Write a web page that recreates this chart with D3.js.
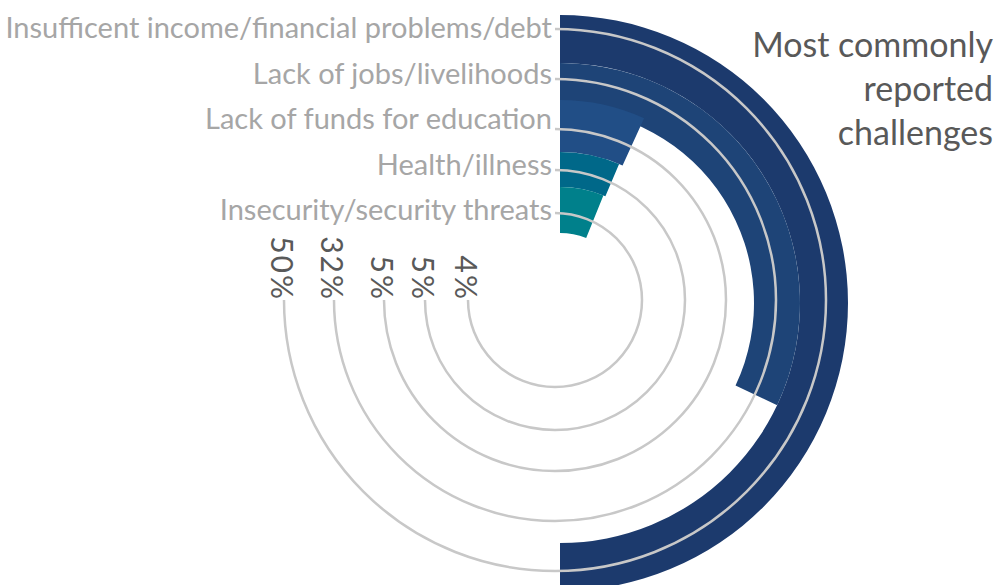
<!DOCTYPE html>
<html>
<head>
<meta charset="utf-8">
<script src="https://cdn.jsdelivr.net/npm/d3@7"></script>
<style>
  html, body { margin: 0; padding: 0; background: #fff; }
  svg { display: block; font-family: Lato, "Open Sans", sans-serif; }
</style>
</head>
<body>
<svg id="chart" width="999" height="585"></svg>
<script>
// challenges, outermost ring first
var categories = [
    "Insufficent income/financial problems/debt",
    "Lack of jobs/livelihoods",
    "Lack of funds for education",
    "Health/illness",
    "Insecurity/security threats"
];
// bar lengths as drawn (share of a full circle, %)
var values = [50, 32, 6.8, 6.4, 6.1];
// the labels printed on the chart
var valueLabels = ["50%", "32%", "5%", "5%", "4%"];
var barColors = ["#1c3a6d", "#1e4477", "#214e86", "#006889", "#00808b"];
var titleLines = ["Most commonly", "reported", "challenges"];

var W = 999, H = 585;
var svg = d3.select("#chart");

// ring geometry (outer edge / inner edge of each bar)
var outerR = [288, 240, 203, 151, 116];
var innerR = [240, 194, 151, 116, 70];
var trackR = [271, 221, 171, 130, 87];

var angle = d3.scaleLinear().domain([0, 100]).range([0, 2 * Math.PI]);

var bars = svg.append("g").attr("transform", "translate(560,303)");
var arc = d3.arc()
    .startAngle(0)
    .endAngle(function(d) { return angle(d.v); })
    .innerRadius(function(d) { return innerR[d.i]; })
    .outerRadius(function(d) { return outerR[d.i]; });

bars.selectAll("path")
    .data(values.map(function(v, i) { return {v: v, i: i}; }))
    .enter()
    .append("path")
    .attr("d", arc)
    .attr("fill", function(d) { return barColors[d.i]; });

// grey tracks: from 12 o'clock clockwise round to 9 o'clock
var tracks = svg.append("g").attr("transform", "translate(555,300)");
tracks.selectAll("path")
    .data(trackR)
    .enter()
    .append("path")
    .attr("d", function(r) {
        var p = d3.path();
        p.arc(0, 0, r, -Math.PI / 2, Math.PI, false);
        return p.toString();
    })
    .attr("fill", "none")
    .attr("stroke", "#c8c8c8")
    .attr("stroke-width", 2.5);

// percent labels, turned a quarter clockwise, sitting on the track ends
tracks.selectAll("text")
    .data(valueLabels)
    .enter()
    .append("text")
    .attr("transform", function(d, i) {
        return "translate(" + (-trackR[i] - 13) + ",1) rotate(90)";
    })
    .attr("text-anchor", "end")
    .attr("fill", "#595959")
    .attr("font-size", 30)
    .attr("letter-spacing", 2)
    .text(function(d) { return d; });

// category names
var labelY = d3.scalePoint().domain(categories).range([28, 210]);
svg.append("g").selectAll("text")
    .data(categories)
    .enter()
    .append("text")
    .attr("x", 552)
    .attr("y", function(d) { return labelY(d); })
    .attr("dy", "0.35em")
    .attr("text-anchor", "end")
    .attr("fill", "#a6a6a6")
    .attr("font-size", 29)
    .text(function(d) { return d; });

// title
svg.append("g").selectAll("text")
    .data(titleLines)
    .enter()
    .append("text")
    .attr("x", 993)
    .attr("y", function(d, i) { return 45 + i * 44; })
    .attr("dy", "0.35em")
    .attr("text-anchor", "end")
    .attr("fill", "#595959")
    .attr("font-size", 34)
    .text(function(d) { return d; });
</script>
</body>
</html>
